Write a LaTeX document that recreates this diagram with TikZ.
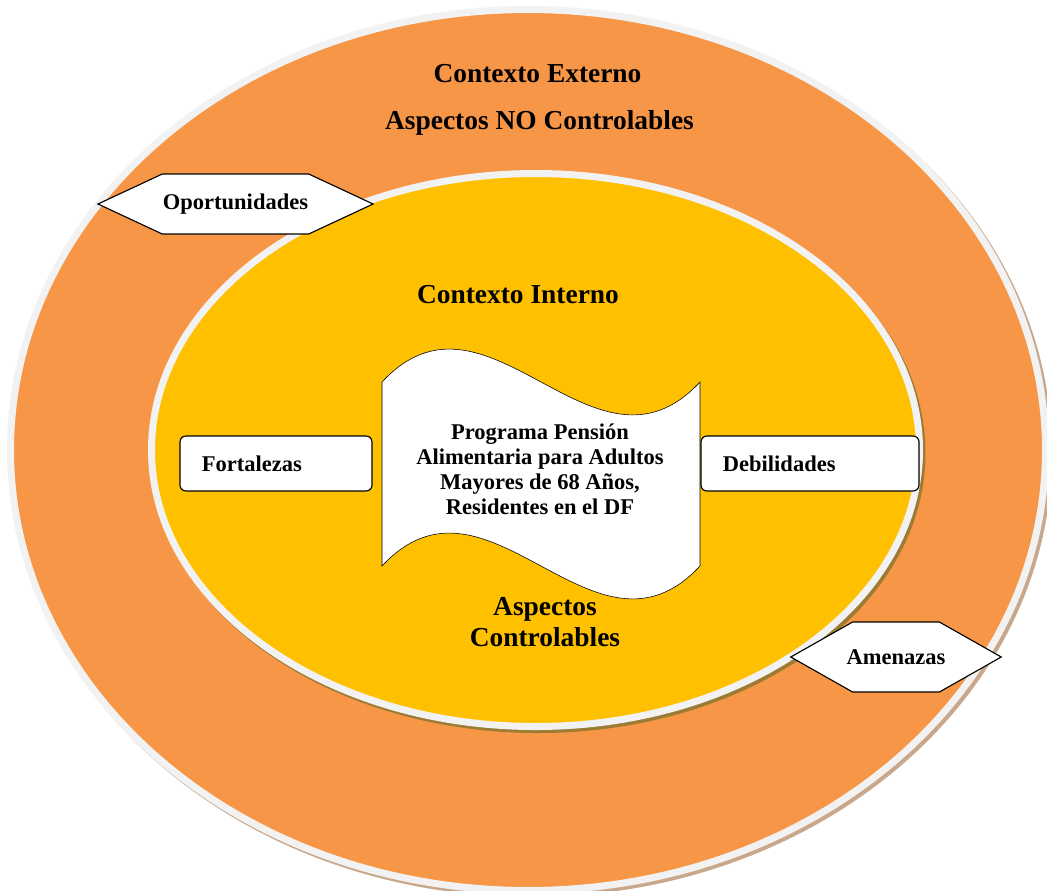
\documentclass[tikz,border=0pt]{standalone}
\usepackage{fontspec}
\setmainfont{Liberation Serif}
\usepackage{tikz}
\usetikzlibrary{shapes.symbols}

\definecolor{externo}{HTML}{F79646}
\definecolor{interno}{HTML}{FFC000}
\definecolor{anillo}{HTML}{F2F2F2}
\definecolor{sombraext}{HTML}{C9A78A}
\definecolor{sombraint}{HTML}{9C7B33}

\begin{document}
\begin{tikzpicture}[
    x=0.025cm, y=-0.025cm,
    titulo/.style={font=\fontsize{19.5}{22}\selectfont\bfseries, anchor=base},
    hexa/.style={signal, signal to=west and east, draw, thick, fill=white, inner sep=0pt, font=\fontsize{16}{19}\selectfont\bfseries},
    caja/.style={rectangle, draw, thick, rounded corners=0.15cm, fill=white, minimum height=1.375cm, inner xsep=0.55cm, align=left, font=\fontsize{16}{19}\selectfont\bfseries}
]
    \useasboundingbox (0,0) rectangle (1047,890);

    % Ellipses
    \fill[sombraext] (531,453) ellipse [x radius=521, y radius=444];
    \filldraw[fill=externo, draw=anillo, line width=0.175cm] (528,450) ellipse [x radius=517.5, y radius=440.5];
    \fill[sombraint] (538,453) ellipse [x radius=387.5, y radius=280];
    \filldraw[fill=interno, draw=anillo, line width=0.175cm] (535.5,450) ellipse [x radius=384, y radius=276.5];

    % Titles
    \node[titulo] (externo) at (537.5,82) {Contexto Externo};
    \node[titulo] (nocontrol) at (539.5,129) {Aspectos NO Controlables};
    \node[titulo] (interno) at (518,303) {Contexto Interno};
    \node[titulo, align=center, anchor=center] (control) at (545,622) {Aspectos\\Controlables};

    % Program
    \draw[fill=white] (382,382) .. controls (488,268) and (594,496) .. (700,382)
        -- (700,566) .. controls (594,680) and (488,452) .. (382,566) -- cycle;
    \node[align=center, font=\fontsize{16}{17.8}\selectfont\bfseries] (programa) at (540,469)
        {Programa Pensión\\Alimentaria para Adultos\\Mayores de 68 Años,\\Residentes en el DF};

    % Boxes
    \node[caja, text width=3.7cm] (fortalezas) at (276,463.5) {Fortalezas};
    \node[caja, text width=4.35cm] (debilidades) at (810,463.5) {Debilidades};

    % Hexagons
    \node[hexa, minimum width=6.875cm, minimum height=1.5cm, signal pointer angle=50] (oportunidades) at (235.5,204) {Oportunidades};
    \node[hexa, inner xsep=-0.15cm, minimum height=1.75cm, signal pointer angle=59] (amenazas) at (896,657) {Amenazas};
\end{tikzpicture}
\end{document}
